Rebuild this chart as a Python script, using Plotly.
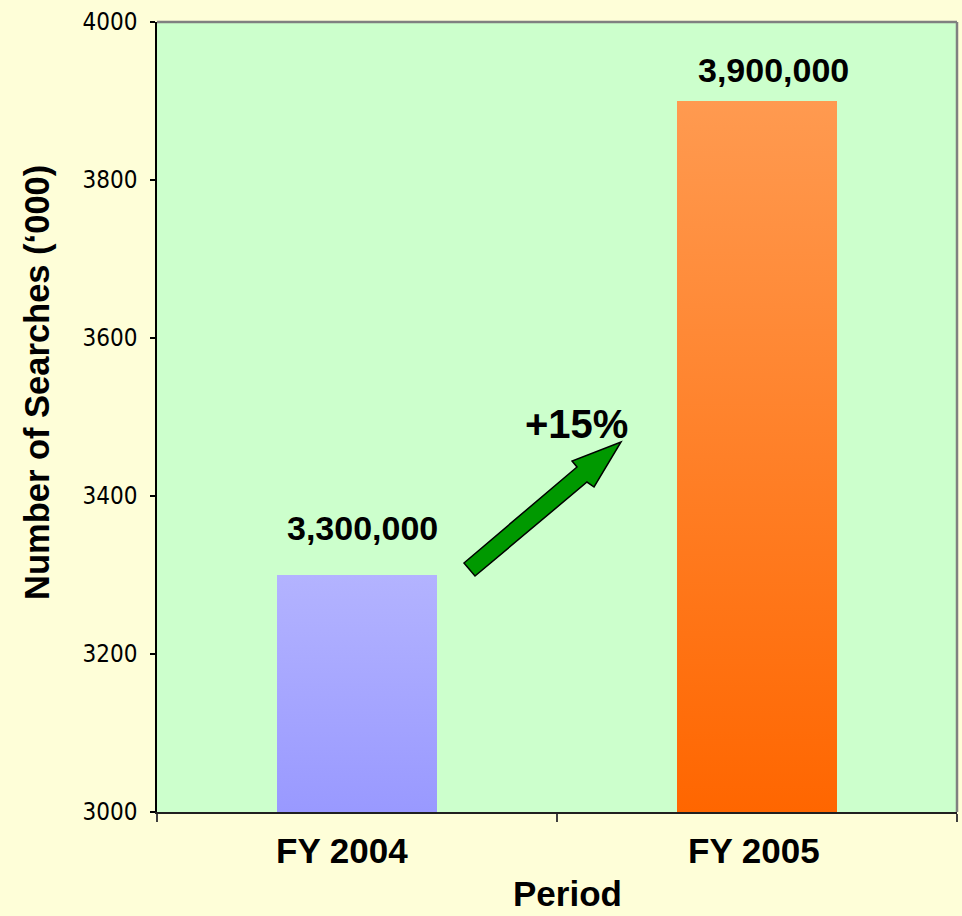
import plotly.graph_objects as go

# Annual search volume, in thousands
periods = ["FY 2004", "FY 2005"]
searches = [3300, 3900]
value_labels = ["3,300,000", "3,900,000"]
growth_label = "+15%"

# Vertical gradient per bar: (bottom colour, top colour)
bar_gradients = [("#9999FF", "#B3B3FF"), ("#FF6600", "#FF9A50")]
bar_width = 0.4

y_ticks = [3000, 3200, 3400, 3600, 3800, 4000]

BOLD = "Liberation Sans, Arial, sans-serif"
NARROW = "Liberation Sans Narrow, Arial Narrow, DejaVu Sans Condensed, Liberation Sans, sans-serif"

fig = go.Figure()

xs = list(range(len(periods)))

# Plain bars underneath, gradient-filled rectangles of the same extent on top
fig.add_trace(go.Bar(
    x=xs, y=[v - 3000 for v in searches], base=3000, width=bar_width,
    marker=dict(color=[g[0] for g in bar_gradients], line=dict(width=0)),
    hoverinfo="skip", showlegend=False,
))
for i, (v, (c_bot, c_top)) in enumerate(zip(searches, bar_gradients)):
    x0, x1 = i - bar_width / 2, i + bar_width / 2
    fig.add_trace(go.Scatter(
        x=[x0, x1, x1, x0, x0], y=[3000, 3000, v, v, 3000],
        mode="lines", line=dict(width=0), fill="toself",
        fillgradient=dict(type="vertical", colorscale=[[0, c_bot], [1, c_top]]),
        hoverinfo="skip", showlegend=False,
    ))

# Value labels above each bar
label_dx = [5, 16]
label_dy = [26, 10]
for i, (v, lab) in enumerate(zip(searches, value_labels)):
    fig.add_annotation(
        x=i, y=v, xref="x", yref="y", text=lab, showarrow=False,
        yanchor="bottom", yshift=label_dy[i], xshift=label_dx[i],
        font=dict(family=BOLD, size=34, color="black", weight="bold"),
    )

# Category labels under the axis
cat_dx = [-15, -3]
for i, name in enumerate(periods):
    fig.add_annotation(
        x=i, y=0, xref="x", yref="paper", text=name, showarrow=False,
        yanchor="middle", yshift=-38, xshift=cat_dx[i],
        font=dict(family=BOLD, size=35, color="black", weight="bold"),
    )

# Growth arrow between the bars (paper coordinates of the plot area)
arrow_px = [(464, 563), (475, 576), (587, 482), (594, 487),
            (621, 442), (572, 461), (577, 467)]
L, R, T, B = 157, 957, 22, 812
pts = [((px - L) / (R - L), (B - py) / (B - T)) for px, py in arrow_px]
path = "M " + " L ".join(f"{x:.4f},{y:.4f}" for x, y in pts) + " Z"
fig.add_shape(type="path", xref="paper", yref="paper", path=path,
              fillcolor="#009900", line=dict(color="black", width=1.5))

fig.add_annotation(
    x=(576 - L) / (R - L), y=(B - 424) / (B - T), xref="paper", yref="paper",
    text=growth_label, showarrow=False, xanchor="center", yanchor="middle",
    font=dict(family=BOLD, size=40, color="black", weight="bold"),
)

# Grey frame on the top and right edges of the plot area
fig.add_shape(type="line", xref="paper", yref="paper", x0=0, x1=1, y0=1, y1=1,
              line=dict(color="#808080", width=2.5))
fig.add_shape(type="line", xref="paper", yref="paper", x0=1, x1=1, y0=0, y1=1,
              line=dict(color="#808080", width=2.5))

# Axis titles
fig.add_annotation(
    x=(567 - L) / (R - L), y=(B - 893) / (B - T), xref="paper", yref="paper",
    text="Period", showarrow=False, xanchor="center", yanchor="middle",
    font=dict(family=BOLD, size=35, color="black", weight="bold"),
)
fig.add_annotation(
    x=(37 - L) / (R - L), y=(B - 383) / (B - T), xref="paper", yref="paper",
    text="Number of Searches (\u2018000)", showarrow=False, textangle=-90,
    xanchor="center", yanchor="middle",
    font=dict(family=BOLD, size=34.5, color="black", weight="bold"),
)

fig.update_layout(
    width=962, height=916,
    margin=dict(l=L, r=962 - R, t=T, b=916 - B),
    paper_bgcolor="#FEFED8", plot_bgcolor="#CCFFCC",
    bargap=0, showlegend=False,
)
fig.update_xaxes(
    range=[-0.5, 1.5], tickvals=xs, ticktext=["", ""], ticks="",
    showgrid=False, zeroline=False,
    showline=True, linecolor="#202020", linewidth=1.5,
    minor=dict(tickmode="array", tickvals=[-0.5, 0.5, 1.5], ticks="outside",
               ticklen=8, tickcolor="#404040", tickwidth=1.5, showgrid=False),
)
fig.update_yaxes(
    range=[3000, 4000], tickvals=y_ticks, ticks="outside", ticklen=5,
    tickcolor="black", tickwidth=1.5,
    showgrid=False, zeroline=False,
    showline=True, linecolor="black", linewidth=1.5,
    tickfont=dict(family=NARROW, size=24, color="black"),
    ticklabelstandoff=8,
)

fig.write_html("out.html")
